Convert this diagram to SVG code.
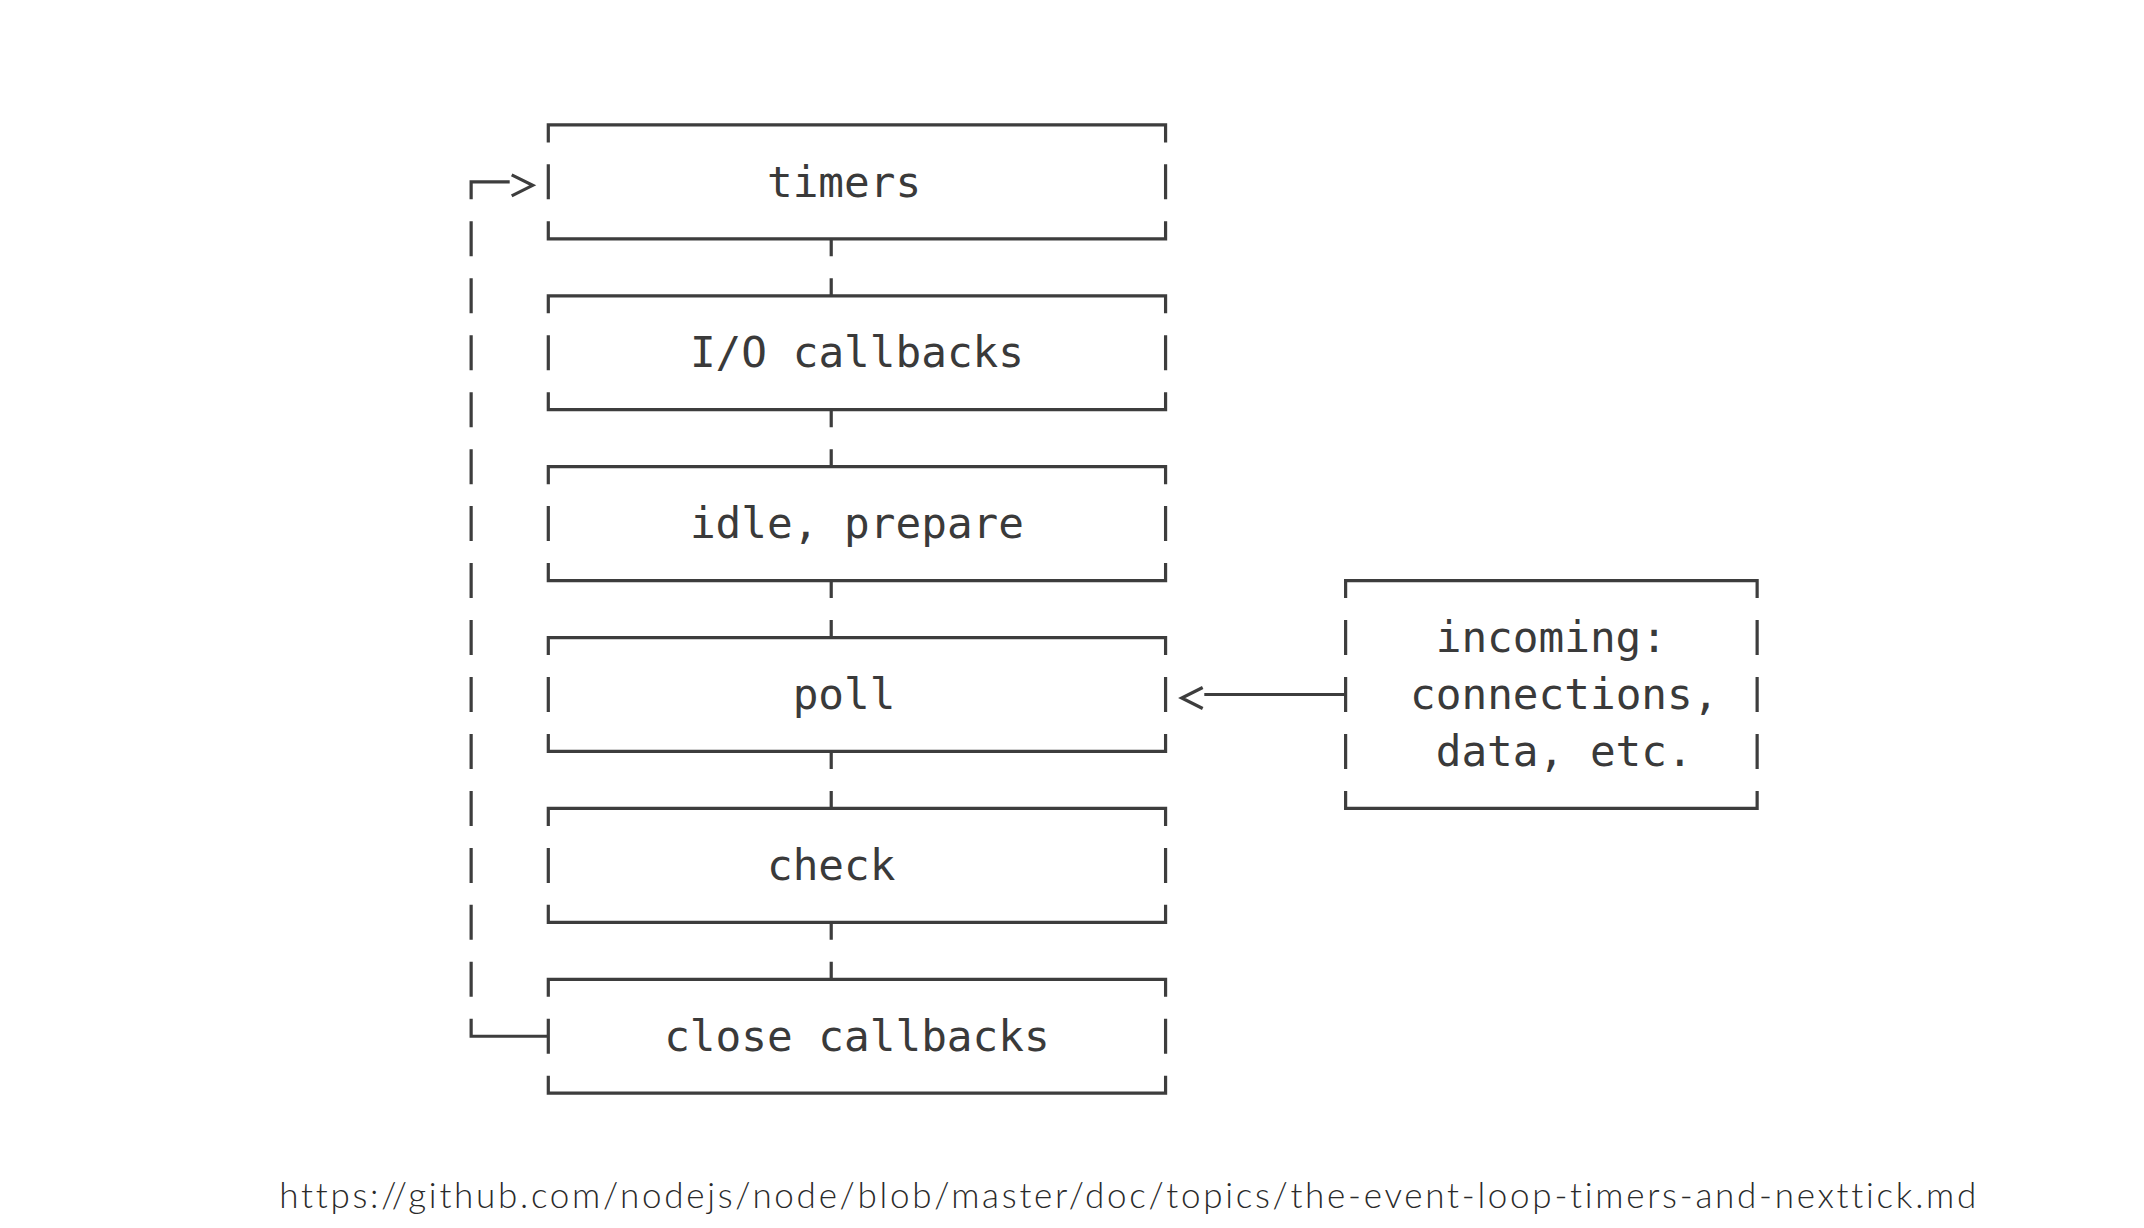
<svg xmlns="http://www.w3.org/2000/svg" width="2144" height="1228" viewBox="0 0 2144 1228">
<style>
.ln{fill:none;stroke:#3d3d3d;stroke-width:3.2;stroke-linecap:butt;stroke-linejoin:miter}
.tx{font-family:"DejaVu Sans Mono","Liberation Mono",monospace;font-size:42.7px;fill:#3a3a3a;text-anchor:middle}
.url{font-family:Lato,"Noto Sans","Liberation Sans",sans-serif;font-weight:300;font-size:35px;fill:#2a2a2a;font-variant-ligatures:none;font-feature-settings:"liga" 0,"dlig" 0}
</style>
<rect width="2144" height="1228" fill="#ffffff"/>

<g id="timers">
<path class="ln" d="M548.3,142.4 V124.9 H1165.58 V142.4 M548.3,164.36 V199.36 M1165.58,164.36 V199.36 M548.3,221.32 V238.82 H1165.58 V221.32"/>
<text class="tx" x="844.08" y="196.56">timers</text>
</g>

<g id="io-callbacks">
<path class="ln" d="M548.3,313.28 V295.78 H1165.58 V313.28 M548.3,335.24 V370.24 M1165.58,335.24 V370.24 M548.3,392.2 V409.7 H1165.58 V392.2"/>
<text class="tx" x="856.94" y="367.44">I/O callbacks</text>
</g>

<g id="idle-prepare">
<path class="ln" d="M548.3,484.16 V466.66 H1165.58 V484.16 M548.3,506.12 V541.12 M1165.58,506.12 V541.12 M548.3,563.08 V580.58 H1165.58 V563.08"/>
<text class="tx" x="856.94" y="538.32">idle, prepare</text>
</g>

<g id="poll">
<path class="ln" d="M548.3,655.04 V637.54 H1165.58 V655.04 M548.3,677 V712 M1165.58,677 V712 M548.3,733.96 V751.46 H1165.58 V733.96"/>
<text class="tx" x="844.08" y="709.2">poll</text>
</g>

<g id="check">
<path class="ln" d="M548.3,825.92 V808.42 H1165.58 V825.92 M548.3,847.88 V882.88 M1165.58,847.88 V882.88 M548.3,904.84 V922.34 H1165.58 V904.84"/>
<text class="tx" x="831.22" y="880.08">check</text>
</g>

<g id="close-callbacks">
<path class="ln" d="M548.3,996.8 V979.3 H1165.58 V996.8 M548.3,1018.76 V1053.76 M1165.58,1018.76 V1053.76 M548.3,1075.72 V1093.22 H1165.58 V1075.72"/>
<text class="tx" x="856.94" y="1050.96">close callbacks</text>
</g>

<g id="incoming">
<path class="ln" d="M1345.62,598.08 V580.58 H1757.14 V598.08 M1345.62,620.04 V655.04 M1757.14,620.04 V655.04 M1345.62,677 V712 M1757.14,677 V712 M1345.62,733.96 V768.96 M1757.14,733.96 V768.96 M1345.62,790.92 V808.42 H1757.14 V790.92"/>
<text class="tx" x="1551.38" y="652.24">incoming:</text>
<text class="tx" x="1564.24" y="709.2">connections,</text>
<text class="tx" x="1564.24" y="766.16">data, etc.</text>
</g>

<g id="connectors">
<path class="ln" d="M831.22,238.82 V256.32 M831.22,278.28 V295.78 M831.22,409.7 V427.2 M831.22,449.16 V466.66 M831.22,580.58 V598.08 M831.22,620.04 V637.54 M831.22,751.46 V768.96 M831.22,790.92 V808.42 M831.22,922.34 V939.84 M831.22,961.8 V979.3"/>
<path class="ln" d="M471.14,199.36 V181.86 H509.7 M471.14,221.32 V256.32 M471.14,278.28 V313.28 M471.14,335.24 V370.24 M471.14,392.2 V427.2 M471.14,449.16 V484.16 M471.14,506.12 V541.12 M471.14,563.08 V598.08 M471.14,620.04 V655.04 M471.14,677 V712 M471.14,733.96 V768.96 M471.14,790.92 V825.92 M471.14,847.88 V882.88 M471.14,904.84 V939.84 M471.14,961.8 V996.8 M471.14,1018.76 V1036.26 H548.3"/>
<polyline class="ln" points="511.7,174.86 532.7,185.36 511.7,195.86"/>
<path class="ln" d="M1345.62,694.5 H1204.3"/>
<polyline class="ln" points="1202.7,687.5 1181.7,698 1202.7,708.5"/>
</g>

<text class="url" x="279.3" y="1208.3" textLength="1697" lengthAdjust="spacing">https://github.com/nodejs/node/blob/master/doc/topics/the-event-loop-timers-and-nexttick.md</text>
</svg>
